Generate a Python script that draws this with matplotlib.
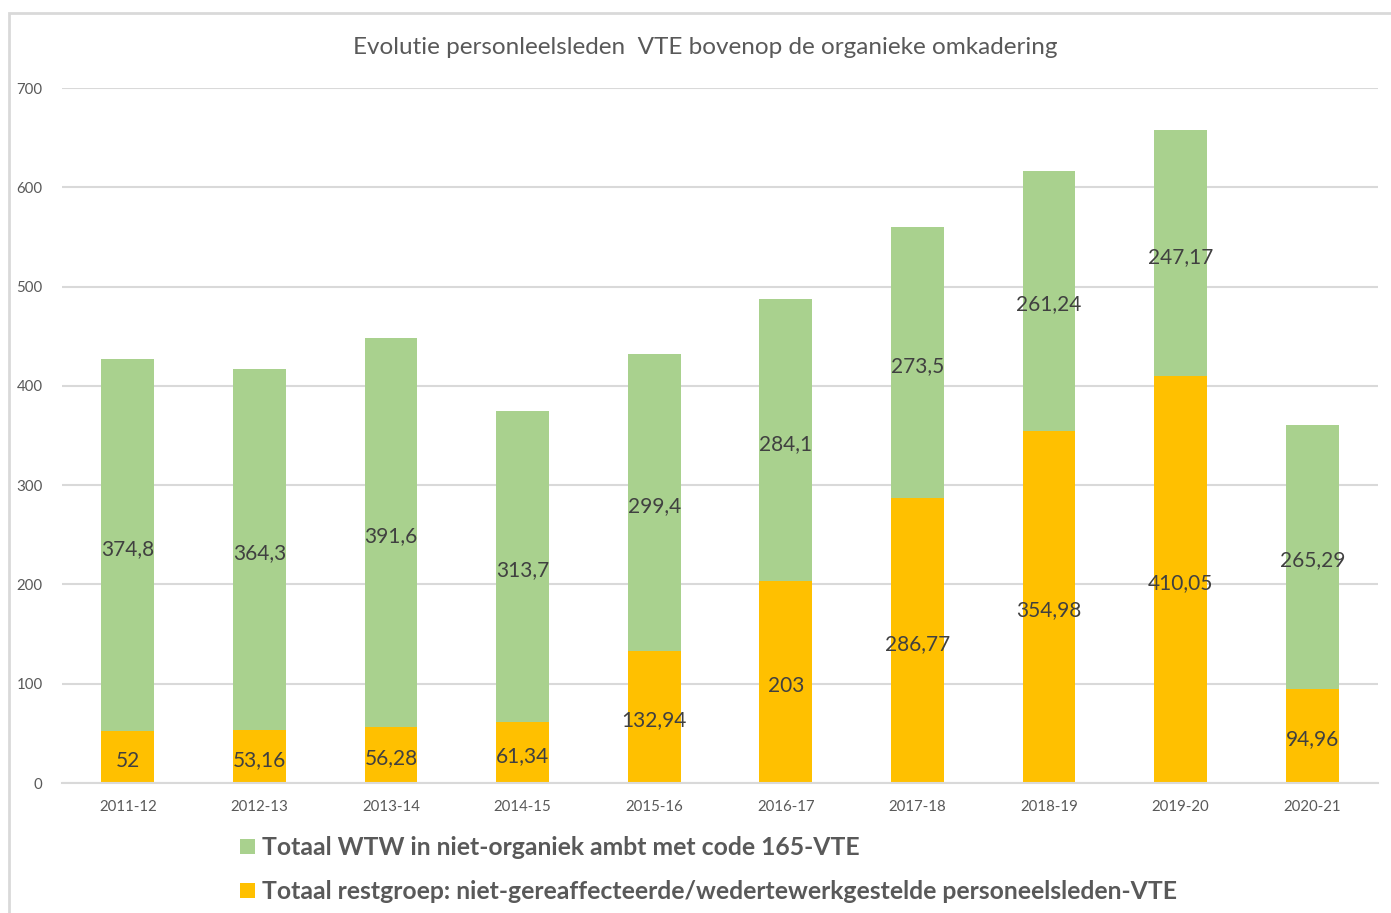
import matplotlib
matplotlib.use("Agg")
import matplotlib.pyplot as plt
from matplotlib.patches import Patch, Rectangle

plt.rcParams["font.family"] = ["Lato", "DejaVu Sans"]

years = ["2011-12", "2012-13", "2013-14", "2014-15", "2015-16",
         "2016-17", "2017-18", "2018-19", "2019-20", "2020-21"]
restgroep = [52, 53.16, 56.28, 61.34, 132.94, 203, 286.77, 354.98, 410.05, 94.96]
wtw = [374.8, 364.3, 391.6, 313.7, 299.4, 284.1, 273.5, 261.24, 247.17, 265.29]

lbl_wtw = "Totaal WTW in niet-organiek ambt met code 165-VTE"
lbl_rest = "Totaal restgroep: niet-gereaffecteerde/wedertewerkgestelde personeelsleden-VTE"

GREEN = "#A9D18E"
ORANGE = "#FFC000"
GRID = "#D9D9D9"
TXT = "#595959"
LBL = "#404040"


def fmt(v):
    return f"{v:g}".replace(".", ",")


fig = plt.figure(figsize=(13.91, 9.13), dpi=100)
ax = fig.add_axes([62 / 1391, 1 - 783 / 913, (1378 - 62) / 1391, (783 - 88) / 913])

x = range(len(years))
ax.bar(x, restgroep, width=0.4, color=ORANGE, zorder=2)
ax.bar(x, wtw, width=0.4, bottom=restgroep, color=GREEN, zorder=2)

# waarden in het midden van elk segment
for i in x:
    ax.annotate(fmt(restgroep[i]), (i, restgroep[i] / 2), xytext=(0, -2.5),
                textcoords="offset points", ha="center", va="center",
                fontsize=15, color=LBL, zorder=3)
    ax.annotate(fmt(wtw[i]), (i, restgroep[i] + wtw[i] / 2), xytext=(0, -2.5),
                textcoords="offset points", ha="center", va="center",
                fontsize=15, color=LBL, zorder=3)

ax.set_xlim(-0.5, len(years) - 0.5)
ax.set_ylim(0, 700)
ax.set_yticks(range(0, 701, 100))
ax.set_xticks(list(x))
ax.set_xticklabels(years)
ax.tick_params(axis="both", length=0, labelsize=10.8, colors=TXT)
ax.tick_params(axis="y", pad=14)
ax.tick_params(axis="x", pad=12)
ax.grid(axis="y", color=GRID, linewidth=1.5, zorder=0)
for side in ["top", "right", "left"]:
    ax.spines[side].set_visible(False)
ax.spines["bottom"].set_color(GRID)
ax.spines["bottom"].set_linewidth(1.5)

fig.text(705 / 1391, 1 - 47 / 913, "Evolutie personleelsleden  VTE bovenop de organieke omkadering",
         ha="center", va="center", fontsize=17.5, color=TXT)

handles = [Patch(facecolor=GREEN, label=lbl_wtw), Patch(facecolor=ORANGE, label=lbl_rest)]
leg = fig.legend(handles=handles, loc="upper left", bbox_to_anchor=(218 / 1391, 1 - 814 / 913),
                 frameon=False, prop={"size": 17.8, "weight": "bold"},
                 handlelength=0.6, handleheight=0.6, handletextpad=0.3, labelspacing=0.85)
for t in leg.get_texts():
    t.set_color(TXT)

fig.patches.append(Rectangle((9 / 1391, -0.05), 1.2, 1 - 13 / 913 + 0.05,
                             transform=fig.transFigure, fill=False,
                             edgecolor=GRID, linewidth=2, zorder=0))

fig.savefig("out.png", dpi=100)
